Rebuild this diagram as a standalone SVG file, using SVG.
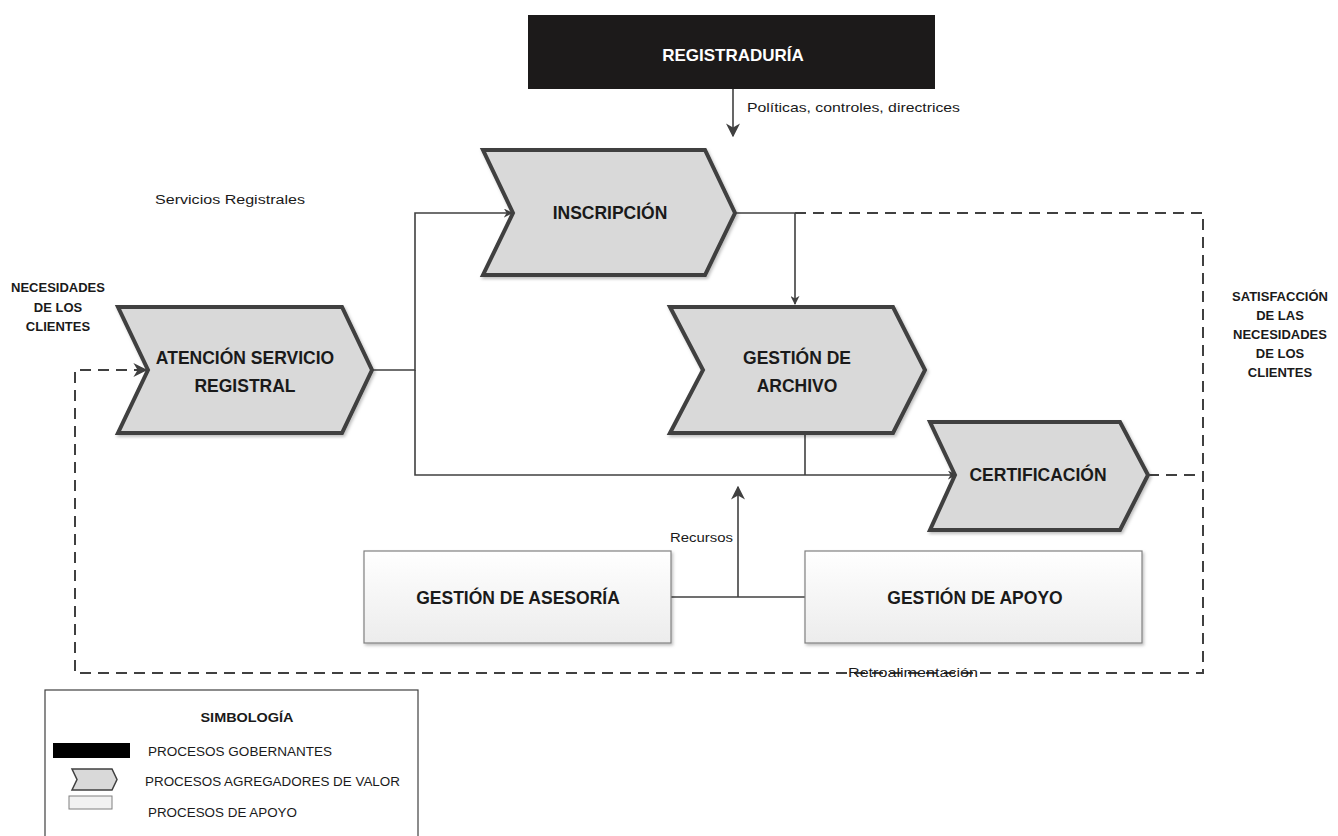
<svg xmlns="http://www.w3.org/2000/svg" width="1338" height="836" viewBox="0 0 1338 836">
<defs>
<style>
.t{font-family:"Liberation Sans",Arial,sans-serif;fill:#1a1a1a}
.b{font-weight:bold}
.h{font-size:17.5px;font-weight:bold;text-anchor:middle}
.s{font-size:13px;font-weight:bold;text-anchor:middle}
.chev{fill:#d9d9d9;stroke:#404040;stroke-width:4;stroke-linejoin:miter;filter:url(#sh)}
.box{fill:url(#g);stroke:#808080;stroke-width:1.2;filter:url(#sh)}
.ln{fill:none;stroke:#404040;stroke-width:1.6}
.dash{fill:none;stroke:#404040;stroke-width:2;stroke-dasharray:11 7}
</style>
<linearGradient id="g" x1="0" y1="0" x2="0" y2="1"><stop offset="0" stop-color="#ffffff"/><stop offset="1" stop-color="#ececec"/></linearGradient>
<filter id="sh" x="-10%" y="-10%" width="120%" height="130%"><feDropShadow dx="1.5" dy="2" stdDeviation="1.5" flood-color="#000000" flood-opacity="0.25"/></filter>
<marker id="ah" viewBox="0 0 10 10" refX="9" refY="5" markerWidth="9" markerHeight="9" markerUnits="userSpaceOnUse" orient="auto"><path d="M0,0 L10,5 L0,10 L3,5 Z" fill="#404040"/></marker>
<marker id="ah2" viewBox="0 0 10 10" refX="9" refY="5" markerWidth="14" markerHeight="14" markerUnits="userSpaceOnUse" orient="auto"><path d="M0,0 L10,5 L0,10 L3,5 Z" fill="#404040"/></marker>
</defs>
<rect width="1338" height="836" fill="#ffffff"/>

<g id="connectors">
<line class="ln" x1="733" y1="89" x2="733" y2="136" stroke-width="2.2" marker-end="url(#ah2)"/>
<path class="ln" d="M372,370 H415 V213 H512" marker-end="url(#ah)"/>
<path class="ln" d="M415,370 V475 H956" marker-end="url(#ah)"/>
<path class="ln" d="M735,213 H795 V304" marker-end="url(#ah)"/>
<line class="ln" x1="805" y1="433" x2="805" y2="475"/>
<path class="ln" d="M671,597 H805"/>
<line class="ln" x1="738" y1="597" x2="738" y2="487" stroke-width="2" marker-end="url(#ah2)"/>
<path class="dash" d="M795,213 H1203 V673 H75 V370 H146" marker-end="url(#ah2)"/>
<line class="dash" x1="1148" y1="475" x2="1203" y2="475"/>
</g>

<g id="registraduria">
<rect x="528" y="15" width="407" height="74" fill="#1c1a1a"/>
<text class="t" x="733" y="61" font-size="17" font-weight="bold" text-anchor="middle" style="fill:#ffffff">REGISTRADURÍA</text>
</g>
<text class="t" x="747" y="112" font-size="13" textLength="213" lengthAdjust="spacingAndGlyphs">Políticas, controles, directrices</text>
<text class="t" x="155" y="204" font-size="12.5" textLength="150" lengthAdjust="spacingAndGlyphs">Servicios Registrales</text>

<g id="inscripcion">
<polygon class="chev" points="483,150 705,150 735,213 705,275 483,275 513,213"/>
<text class="t h" x="610" y="219">INSCRIPCIÓN</text>
</g>

<g id="atencion">
<polygon class="chev" points="118,307 342,307 372,370 342,433 118,433 148,370"/>
<text class="t h" x="245" y="364">ATENCIÓN SERVICIO</text>
<text class="t h" x="245" y="392">REGISTRAL</text>
</g>

<g id="archivo">
<polygon class="chev" points="670,307 893,307 925,370 893,433 670,433 703,370"/>
<text class="t h" x="797" y="364">GESTIÓN DE</text>
<text class="t h" x="797" y="392">ARCHIVO</text>
</g>

<g id="certificacion">
<polygon class="chev" points="930,422 1120,422 1148,475 1120,530 930,530 955,475"/>
<text class="t h" x="1038" y="481">CERTIFICACIÓN</text>
</g>

<g id="asesoria">
<rect class="box" x="364" y="551" width="307" height="92"/>
<text class="t h" x="518" y="604">GESTIÓN DE ASESORÍA</text>
</g>

<g id="apoyo">
<rect class="box" x="805" y="551" width="337" height="92"/>
<text class="t h" x="975" y="604">GESTIÓN DE APOYO</text>
</g>

<text class="t" x="670" y="542" font-size="12.5" textLength="63" lengthAdjust="spacingAndGlyphs">Recursos</text>
<text class="t" x="848" y="677" font-size="12.5" textLength="130" lengthAdjust="spacingAndGlyphs">Retroalimentación</text>

<g id="necesidades">
<text class="t s" x="58" y="292">NECESIDADES</text>
<text class="t s" x="58" y="312">DE LOS</text>
<text class="t s" x="58" y="331">CLIENTES</text>
</g>

<g id="satisfaccion">
<text class="t s" x="1280" y="301">SATISFACCIÓN</text>
<text class="t s" x="1280" y="320">DE LAS</text>
<text class="t s" x="1280" y="339">NECESIDADES</text>
<text class="t s" x="1280" y="358">DE LOS</text>
<text class="t s" x="1280" y="377">CLIENTES</text>
</g>

<g id="legend">
<rect x="45" y="690" width="373" height="160" fill="#ffffff" stroke="#404040" stroke-width="1.2"/>
<text class="t b" x="247" y="722" font-size="13" text-anchor="middle" textLength="93" lengthAdjust="spacingAndGlyphs">SIMBOLOGÍA</text>
<rect x="53" y="743" width="77" height="15" fill="#000000"/>
<text class="t" x="148" y="756" font-size="12.5" textLength="184" lengthAdjust="spacingAndGlyphs">PROCESOS GOBERNANTES</text>
<polygon points="72,769 112,769 117,779.5 112,790 72,790 77,779.5" fill="#d9d9d9" stroke="#404040" stroke-width="1.5"/>
<text class="t" x="145" y="786" font-size="12.5" textLength="255" lengthAdjust="spacingAndGlyphs">PROCESOS AGREGADORES DE VALOR</text>
<rect x="69" y="796" width="43" height="13" fill="#f2f2f2" stroke="#808080" stroke-width="1"/>
<text class="t" x="148" y="817" font-size="12.5" textLength="149" lengthAdjust="spacingAndGlyphs">PROCESOS DE APOYO</text>
</g>
</svg>
